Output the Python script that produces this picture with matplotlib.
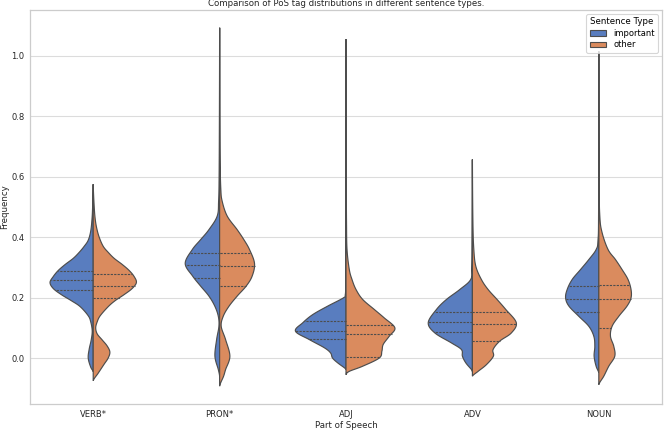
import numpy as np
import matplotlib
matplotlib.use("Agg")
import matplotlib.pyplot as plt
from matplotlib.patches import Patch

categories = ["VERB*", "PRON*", "ADJ", "ADV", "NOUN"]
hue_levels = ["important", "other"]

# density profiles (value level -> relative density)
verb_imp_y = [-0.045, -0.03, 0.0, 0.03, 0.06, 0.09, 0.12, 0.14, 0.17, 0.19, 0.21, 0.23, 0.25, 0.27, 0.29, 0.31, 0.33, 0.35, 0.37, 0.39, 0.42, 0.46, 0.50, 0.575]
verb_imp_d = [0, 2.5, 5, 4, 2, 1, 2.5, 5, 13, 22, 32, 40, 43.3, 40, 35, 28, 20, 14, 9, 5, 2.5, 1.2, 0.6, 0]
verb_oth_y = [-0.075, -0.05, -0.02, 0.0, 0.02, 0.04, 0.06, 0.08, 0.10, 0.12, 0.14, 0.17, 0.19, 0.21, 0.23, 0.25, 0.27, 0.29, 0.31, 0.33, 0.35, 0.37, 0.40, 0.43, 0.46, 0.50, 0.575]
verb_oth_d = [0, 5, 11, 15, 16.7, 14, 9, 4, 2.5, 4, 7, 15, 22, 31, 39, 43.3, 41, 36, 29, 21, 15, 10, 6, 3.5, 2, 1, 0]

pron_imp_y = [-0.06, -0.038, 0.006, 0.061, 0.105, 0.138, 0.171, 0.205, 0.238, 0.271, 0.313, 0.359, 0.392, 0.425, 0.47, 0.52, 0.6, 0.8, 1.093]
pron_imp_d = [0, 1.3, 4.7, 3, 0.7, 1.3, 4.7, 10.7, 19, 27, 34.5, 27.4, 19, 10.7, 2.4, 1, 0.5, 0.2, 0]
pron_oth_y = [-0.093, -0.06, -0.038, 0.006, 0.061, 0.105, 0.138, 0.171, 0.205, 0.238, 0.271, 0.313, 0.359, 0.392, 0.425, 0.47, 0.52, 0.56, 0.65, 0.8, 1.093]
pron_oth_d = [0, 4, 6, 10.3, 6, 1.6, 3.6, 9.3, 17.6, 26.6, 32.6, 35, 30, 24.3, 17.6, 7.6, 2.5, 1.2, 0.5, 0.2, 0]

adj_imp_y = [-0.038, -0.032, -0.016, 0.0, 0.017, 0.034, 0.061, 0.089, 0.117, 0.144, 0.172, 0.199, 0.21, 0.25, 0.35, 0.6, 1.055]
adj_imp_d = [0, 1.7, 8.3, 13.5, 15.5, 21.7, 36.7, 50.7, 43.3, 33.3, 18.3, 2.7, 0.7, 0.3, 0.15, 0.05, 0]
adj_oth_y = [-0.055, -0.044, -0.027, 0.0, 0.023, 0.045, 0.072, 0.10, 0.133, 0.161, 0.194, 0.227, 0.26, 0.293, 0.36, 0.45, 0.6, 0.8, 1.055]
adj_oth_d = [0, 3.3, 16.7, 33.3, 36, 37.3, 43.3, 49, 38.3, 28.3, 16.7, 10, 6, 3.3, 1, 0.5, 0.25, 0.1, 0]

adv_imp_y = [-0.045, -0.038, -0.016, 0.006, 0.028, 0.05, 0.083, 0.117, 0.161, 0.194, 0.227, 0.26, 0.3, 0.4, 0.657]
adv_imp_d = [0, 1, 6.6, 10, 11, 21, 37.6, 44.3, 36, 26, 12.6, 1.7, 0.6, 0.2, 0]
adv_oth_y = [-0.06, -0.044, -0.022, 0.006, 0.028, 0.056, 0.083, 0.117, 0.161, 0.194, 0.227, 0.26, 0.304, 0.36, 0.45, 0.657]
adv_oth_d = [0, 5.7, 14, 21, 20.7, 27.4, 39, 44, 33.4, 24.7, 15.7, 9, 3.4, 1.4, 0.5, 0]

noun_imp_y = [-0.049, -0.027, 0.006, 0.039, 0.072, 0.105, 0.138, 0.172, 0.199, 0.227, 0.26, 0.293, 0.326, 0.359, 0.39, 0.5, 1.015]
noun_imp_d = [0, 2.7, 4.7, 4, 5, 10, 20, 30, 33.3, 31.7, 26.7, 18.3, 10, 2.7, 0.8, 0.2, 0]
noun_oth_y = [-0.088, -0.06, -0.027, 0.006, 0.039, 0.072, 0.105, 0.138, 0.172, 0.199, 0.227, 0.26, 0.293, 0.326, 0.359, 0.415, 0.47, 0.6, 1.015]
noun_oth_d = [0, 5, 10, 16, 15, 11.7, 13.3, 20, 28.3, 32.3, 32.3, 29.3, 23.3, 16.7, 9.3, 3.3, 1, 0.3, 0]

# quartiles (Q1, median, Q3)
verb_imp_q = [0.224, 0.257, 0.289]
verb_oth_q = [0.200, 0.240, 0.278]
pron_imp_q = [0.266, 0.309, 0.348]
pron_oth_q = [0.238, 0.304, 0.348]
adj_imp_q = [0.064, 0.089, 0.122]
adj_oth_q = [0.003, 0.081, 0.109]
adv_imp_q = [0.087, 0.119, 0.154]
adv_oth_q = [0.058, 0.114, 0.154]
noun_imp_q = [0.152, 0.196, 0.238]
noun_oth_q = [0.098, 0.194, 0.241]

profiles = [
    [(verb_imp_y, verb_imp_d, verb_imp_q), (verb_oth_y, verb_oth_d, verb_oth_q)],
    [(pron_imp_y, pron_imp_d, pron_imp_q), (pron_oth_y, pron_oth_d, pron_oth_q)],
    [(adj_imp_y, adj_imp_d, adj_imp_q), (adj_oth_y, adj_oth_d, adj_oth_q)],
    [(adv_imp_y, adv_imp_d, adv_imp_q), (adv_oth_y, adv_oth_d, adv_oth_q)],
    [(noun_imp_y, noun_imp_d, noun_imp_q), (noun_oth_y, noun_oth_d, noun_oth_q)],
]

colors = ["#597dbf", "#da8b5e"]
line_color = "#4d4d4d"
half_width = 0.4


def catmull_rom(y, d, n=12):
    y = np.asarray(y, float)
    d = np.asarray(d, float)
    py = np.concatenate([[2 * y[0] - y[1]], y, [2 * y[-1] - y[-2]]])
    pd = np.concatenate([[d[0]], d, [d[-1]]])
    ys, ds = [], []
    t = np.linspace(0, 1, n, endpoint=False)
    for i in range(1, len(py) - 2):
        for arr, out in ((py, ys), (pd, ds)):
            p0, p1, p2, p3 = arr[i - 1], arr[i], arr[i + 1], arr[i + 2]
            out.append(0.5 * ((2 * p1) + (-p0 + p2) * t + (2 * p0 - 5 * p1 + 4 * p2 - p3) * t ** 2
                              + (-p0 + 3 * p1 - 3 * p2 + p3) * t ** 3))
    ys.append([y[-1]])
    ds.append([d[-1]])
    ys = np.concatenate(ys)
    ds = np.clip(np.concatenate(ds), 0, None)
    order = np.argsort(ys)
    return ys[order], ds[order]


dmax = max(max(p[1]) for cat in profiles for p in cat)

fig = plt.figure(figsize=(6.64, 4.30), dpi=100)
ax = fig.add_axes([0.0452, 0.0605, 0.9518, 0.9163])
ax.set_facecolor("white")
ax.yaxis.grid(True, color="#dcdcdc", linewidth=0.8, zorder=0)
ax.xaxis.grid(False)
ax.set_axisbelow(True)

for i, cat in enumerate(profiles):
    for j, (yv, dv, qv) in enumerate(cat):
        ys, ds = catmull_rom(yv, dv)
        w = ds / dmax * half_width
        sign = -1 if j == 0 else 1
        xs = i + sign * w
        poly_x = np.concatenate([xs, np.full(len(ys), i)[::-1]])
        poly_y = np.concatenate([ys, ys[::-1]])
        ax.fill(poly_x, poly_y, facecolor=colors[j], edgecolor=line_color,
                linewidth=0.85, zorder=2)
        for q in qv:
            wq = np.interp(q, ys, w)
            ax.plot([i, i + sign * wq], [q, q], color=line_color, linewidth=0.8,
                    linestyle=(0, (2.0, 1.1)), zorder=3)

ax.set_xlim(-0.5, len(categories) - 0.5)
ax.set_ylim(-0.152, 1.152)
ax.set_xticks(range(len(categories)))
ax.set_xticklabels(categories)
ax.set_yticks([0.0, 0.2, 0.4, 0.6, 0.8, 1.0])
ax.tick_params(axis="both", labelsize=6, length=0, pad=4, colors="#262626")
for s in ax.spines.values():
    s.set_color("#cccccc")
    s.set_linewidth(0.9)

ax.set_xlabel("Part of Speech", fontsize=6.2, color="#262626", labelpad=2)
ax.set_ylabel("Frequency", fontsize=6.2, color="#262626", labelpad=1.5)
ax.set_title("Comparison of PoS tag distributions in different sentence types.",
             fontsize=6.2, color="#262626", pad=3)

handles = [Patch(facecolor=colors[k], edgecolor=line_color, linewidth=0.8, label=hue_levels[k])
           for k in range(2)]
leg = ax.legend(handles=handles, title="Sentence Type", loc="upper right",
                fontsize=6, title_fontsize=6.2, frameon=True, borderaxespad=0.5,
                handlelength=2.0, handleheight=0.7, labelspacing=0.3)
leg.get_frame().set_edgecolor("#cccccc")
leg.get_frame().set_linewidth(0.8)

fig.savefig("out.png", dpi=100)
